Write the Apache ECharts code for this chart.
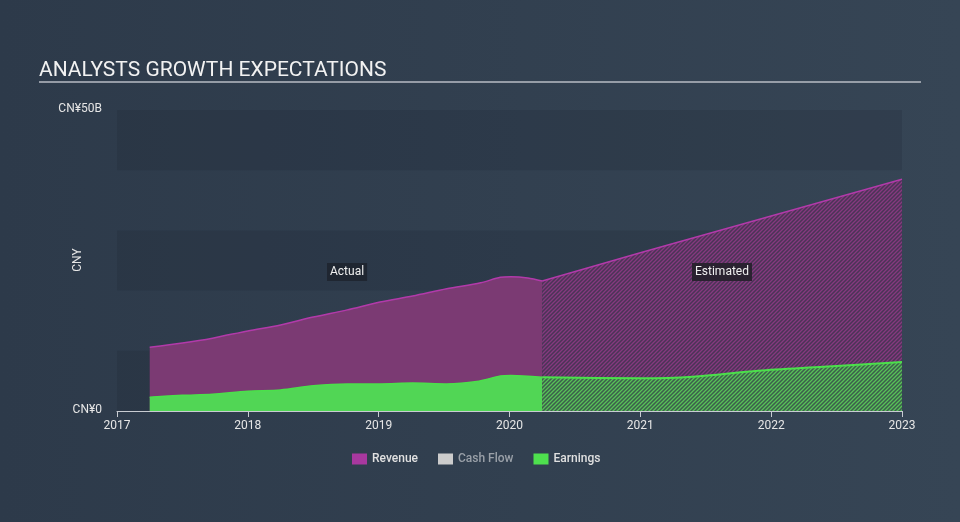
<!DOCTYPE html>
<html>
<head>
<meta charset="utf-8">
<script src="https://cdn.jsdelivr.net/npm/echarts@6/dist/echarts.min.js"></script>
<style>
html,body{margin:0;padding:0;background:#323f4f;}
#main{width:960px;height:522px;}
</style>
</head>
<body>
<div id="main"></div>
<script>
// ---- Data (values in CN¥ billions, x in fractional years) ----
var revenueActualYears  = [2017.25, 2017.5, 2017.73, 2018.0, 2018.25, 2018.5, 2018.76, 2019.01, 2019.26, 2019.52, 2019.78, 2019.93, 2020.01, 2020.14, 2020.25];
var revenueActualValues = [10.6, 11.3, 12.1, 13.3, 14.3, 15.6, 16.8, 18.1, 19.1, 20.3, 21.3, 22.2, 22.3, 22.1, 21.6];
var revenueEstYears     = [2020.25, 2021.0, 2022.0, 2023.0];
var revenueEstValues    = [21.6, 26.3, 32.4, 38.5];
var earningsActualYears  = [2017.25, 2017.5, 2017.73, 2018.0, 2018.25, 2018.5, 2018.76, 2019.01, 2019.26, 2019.52, 2019.75, 2019.93, 2020.01, 2020.25];
var earningsActualValues = [2.3, 2.6, 2.8, 3.3, 3.5, 4.2, 4.5, 4.5, 4.65, 4.5, 4.9, 5.8, 5.9, 5.6];
var earningsEstYears     = [2020.25, 2021.0, 2021.4, 2021.9, 2022.4, 2023.0];
var earningsEstValues    = [5.6, 5.45, 5.7, 6.7, 7.35, 8.15];
var yearTicks = [2017, 2018, 2019, 2020, 2021, 2022, 2023];
var legendNames = ['Revenue', 'Cash Flow', 'Earnings'];

function pairs(xs, ys){ return xs.map(function(x,i){ return [x, ys[i]]; }); }

function hatch(base, line){
  var c = document.createElement('canvas');
  c.width = 4; c.height = 4;
  var g = c.getContext('2d');
  g.fillStyle = base; g.fillRect(0,0,4,4);
  g.strokeStyle = line; g.lineWidth = 1.3;
  g.beginPath();
  g.moveTo(-1,5); g.lineTo(5,-1);
  g.moveTo(-1,1); g.lineTo(1,-1);
  g.moveTo(3,5); g.lineTo(5,3);
  g.stroke();
  return c;
}

var chart = echarts.init(document.getElementById('main'), null, {renderer:'canvas'});
var revLine = '#b23aaa', revFill = '#7b3a73';
var earnLine = '#4be04b', earnFill = '#51d655';

chart.setOption({
  backgroundColor: {
    type:'linear', x:0, y:0, x2:1, y2:0,
    colorStops:[{offset:0,color:'#2d3a4a'},{offset:1,color:'#364555'}]
  },
  animation:false,
  title:{
    text:'ANALYSTS GROWTH EXPECTATIONS',
    left:34, top:55,
    textStyle:{color:'#f2f2f2', fontSize:21, fontWeight:'normal', fontFamily:'Roboto'}
  },
  graphic:[
    {type:'line', z:100, shape:{x1:39,y1:82,x2:921,y2:82}, style:{stroke:'#b8bcc4', lineWidth:1.5}},
    {type:'text', z:100, left:327, top:263, style:{text:'Actual', fill:'#f0f0f0', font:'12px Roboto', backgroundColor:'#1f2631', padding:[3,3]}},
    {type:'text', z:100, left:692, top:263, style:{text:'Estimated', fill:'#f0f0f0', font:'12px Roboto', backgroundColor:'#2a2230', padding:[3,3]}},
    {type:'text', z:100, x:78, y:260, rotation:Math.PI/2, style:{text:'CNY', fill:'#e6e6e6', font:'12px Roboto', align:'center', verticalAlign:'middle'}}
  ],
  legend:{
    bottom:52, left:347,
    itemWidth:15, itemHeight:11, itemGap:20,
    textStyle:{fontFamily:'Roboto', fontSize:12, fontWeight:500},
    data:[
      {name:legendNames[0], icon:'rect', itemStyle:{color:'#a8389f'}, textStyle:{color:'#e0e0e0'}},
      {name:legendNames[1], icon:'rect', itemStyle:{color:'#cccccc'}, textStyle:{color:'#9aa0a8'}},
      {name:legendNames[2], icon:'rect', itemStyle:{color:'#4ee04e'}, textStyle:{color:'#e0e0e0'}}
    ],
    selectedMode:false
  },
  grid:{left:117, right:58, top:110, bottom:111},
  xAxis:{
    type:'value', min:2017, max:2023, interval:1,
    axisLine:{show:true, lineStyle:{color:'#c8ccd2', width:1}},
    axisTick:{show:true, length:6, lineStyle:{color:'#c8ccd2'}},
    axisLabel:{color:'#e6e6e6', fontSize:12, fontFamily:'Roboto', margin:9, formatter:function(v){ return yearTicks.indexOf(v)>=0 ? String(v) : ''; }},
    splitLine:{show:false}
  },
  yAxis:{
    type:'value', min:0, max:50, interval:10,
    axisLine:{show:false}, axisTick:{show:false},
    axisLabel:{color:'#e6e6e6', fontSize:12, fontFamily:'Roboto', margin:15,
      formatter:function(v){ return v===0 ? 'CN¥0' : (v===50 ? 'CN¥50B' : ''); },
      verticalAlign:'bottom', padding:[0,0,-5,0]},
    splitLine:{show:false},
    splitArea:{show:true, areaStyle:{color:['rgba(20,30,40,0.15)','rgba(0,0,0,0)']}}
  },
  series:[
    {name:'Revenue', type:'line', data:pairs(revenueActualYears, revenueActualValues), smooth:0.3, showSymbol:false,
      lineStyle:{color:revLine, width:1.5}, areaStyle:{color:revFill, opacity:1}, z:2},
    {name:'Revenue', type:'line', data:pairs(revenueEstYears, revenueEstValues), smooth:false, showSymbol:false,
      lineStyle:{color:revLine, width:1.5}, areaStyle:{color:{image:hatch('#4a3456','#86397f'), repeat:'repeat'}, opacity:1}, z:2},
    {name:'Cash Flow', type:'line', data:[]},
    {name:'Earnings', type:'line', data:pairs(earningsActualYears, earningsActualValues), smooth:0.3, showSymbol:false,
      lineStyle:{color:earnLine, width:1.5}, areaStyle:{color:earnFill, opacity:1}, z:3},
    {name:'Earnings', type:'line', data:pairs(earningsEstYears, earningsEstValues), smooth:0.3, showSymbol:false,
      lineStyle:{color:earnLine, width:2}, areaStyle:{color:{image:hatch('#3c5e4c','#58c258'), repeat:'repeat'}, opacity:1}, z:3}
  ]
});
</script>
</body>
</html>
